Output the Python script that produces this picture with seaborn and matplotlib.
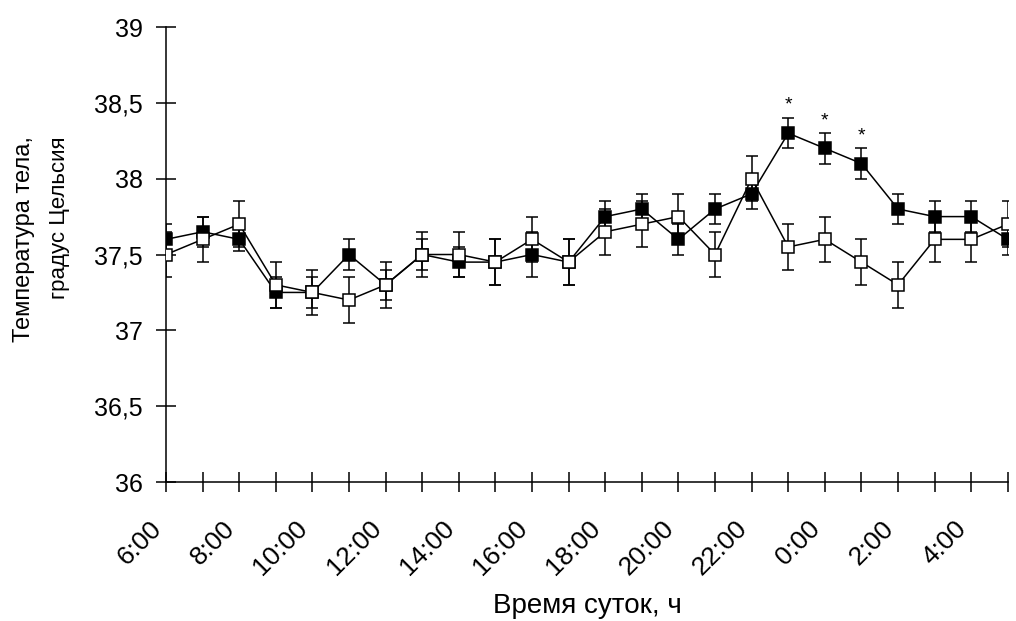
import numpy as np
import pandas as pd
import matplotlib
matplotlib.use("Agg")
import matplotlib.pyplot as plt
import matplotlib.transforms as mtransforms
from matplotlib.ticker import FixedLocator, FuncFormatter
import seaborn as sns

# --- данные ---
hours = [6, 7, 8, 9, 10, 11, 12, 13, 14, 15, 16, 17, 18, 19, 20, 21, 22, 23,
         0, 1, 2, 3, 4, 5]
temp_black = [37.6, 37.65, 37.6, 37.25, 37.25, 37.5, 37.3, 37.5, 37.45, 37.45,
              37.5, 37.45, 37.75, 37.8, 37.6, 37.8, 37.9, 38.3, 38.2, 38.1,
              37.8, 37.75, 37.75, 37.6]
err_black = [0.1, 0.1, 0.08, 0.1, 0.1, 0.1, 0.1, 0.1, 0.1, 0.15, 0.15, 0.15,
             0.1, 0.1, 0.1, 0.1, 0.1, 0.1, 0.1, 0.1, 0.1, 0.1, 0.1, 0.1]
temp_white = [37.5, 37.6, 37.7, 37.3, 37.25, 37.2, 37.3, 37.5, 37.5, 37.45,
              37.6, 37.45, 37.65, 37.7, 37.75, 37.5, 38.0, 37.55, 37.6, 37.45,
              37.3, 37.6, 37.6, 37.7]
err_white = [0.15] * 24
signif = [17, 18, 19]  # точки со звёздочкой

sns.set_style("white")
plt.rcParams['font.family'] = ['Liberation Sans', 'DejaVu Sans']

df = pd.DataFrame({
    'pos': np.arange(len(hours)),
    'black': temp_black, 'err_black': err_black,
    'white': temp_white, 'err_white': err_white,
})

fig = plt.figure(figsize=(10.16, 6.21), dpi=100)
ax = fig.add_axes([0.1634, 0.2238, 0.8286, 0.7327])

# тёмная серия
ax.errorbar(df['pos'], df['black'], yerr=df['err_black'], fmt='none',
            ecolor='black', elinewidth=1.1, capsize=4.5, capthick=1.1, zorder=2)
sns.lineplot(data=df, x='pos', y='black', ax=ax, color='black', lw=1.1,
             marker='s', markersize=8, markerfacecolor='black',
             markeredgecolor='black', markeredgewidth=1.1, zorder=3)

# светлая серия
ax.errorbar(df['pos'], df['white'], yerr=df['err_white'], fmt='none',
            ecolor='black', elinewidth=1.1, capsize=4.5, capthick=1.1, zorder=4)
sns.lineplot(data=df, x='pos', y='white', ax=ax, color='black', lw=1.1,
             marker='s', markersize=8, markerfacecolor='white',
             markeredgecolor='black', markeredgewidth=1.1, zorder=5)

for i in signif:
    ax.annotate('*', (i, temp_black[i] + err_black[i]), xytext=(0, 3),
                textcoords='offset points', ha='center', va='bottom',
                fontsize=14, color='black')

ax.set_xlim(0, len(hours) - 1)
ax.set_ylim(36, 39)
ax.set_yticks(np.arange(36, 39.01, 0.5))
ax.yaxis.set_major_formatter(FuncFormatter(lambda v, p: f'{v:g}'.replace('.', ',')))

ax.xaxis.set_major_locator(FixedLocator(df['pos'].values))
xlabels = [f'{h}:00' if k % 2 == 0 else '' for k, h in enumerate(hours)]
ax.set_xticklabels(xlabels, rotation=45, ha='right', va='top', fontsize=19)
shift = mtransforms.ScaledTranslation(-16 / 100, 0, fig.dpi_scale_trans)
for lbl in ax.get_xticklabels():
    lbl.set_transform(lbl.get_transform() + shift)

ax.tick_params(bottom=True, left=True, direction='inout', length=15,
               width=1.1, color='black', labelcolor='black')
ax.tick_params(axis='y', labelsize=18, pad=9)
ax.tick_params(axis='x', pad=17)

for side in ['top', 'right']:
    ax.spines[side].set_visible(False)
for side in ['left', 'bottom']:
    ax.spines[side].set_color('black')
    ax.spines[side].set_linewidth(1.1)

ax.set_ylabel('')
ax.set_xlabel('Время суток, ч', fontsize=20, color='black', va='top')
ax.xaxis.set_label_coords(0.5, -0.245)

# подпись оси Y — две строки
fig.text(24 / 1016, 1 - 239 / 621, 'Температура тела,', rotation=90,
         ha='center', va='center', fontsize=17, color='black')
fig.text(59 / 1016, 1 - 218 / 621, 'градус Цельсия', rotation=90,
         ha='center', va='center', fontsize=16, color='black')

fig.savefig('out.png', dpi=100, facecolor='white')
